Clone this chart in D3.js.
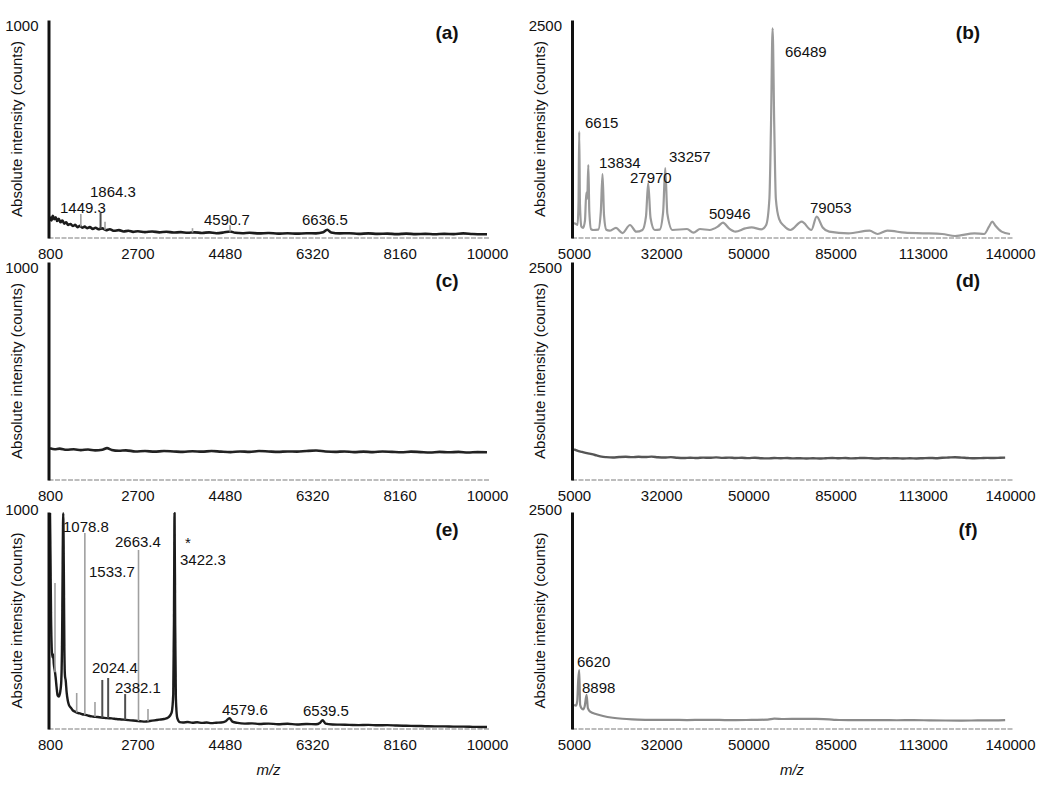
<!DOCTYPE html>
<html lang="en">
<head>
<meta charset="utf-8">
<title>Mass spectra (a)-(f)</title>
<script src="https://d3js.org/d3.v7.min.js"></script>
<style>
  body { margin: 0; background: #fff; }
  svg { font-family: "Liberation Sans", Arial, sans-serif; }
  .tick text { font-size: 15px; fill: #111; }
  .ann { font-size: 15px; fill: #111; }
  .tag { font-size: 19px; font-weight: bold; fill: #111; }
  .ylab { font-size: 15px; fill: #111; }
</style>
</head>
<body>
<div id="main"></div>
<script>

// x ticks sit at evenly spaced positions, labels as printed on the figure
var lowTicks = [800, 2640, 4480, 6320, 8160, 10000];
var lowTickLabels = ["800", "2700", "4480", "6320", "8160", "10000"];
var highTicks = [5000, 32000, 59000, 86000, 113000, 140000];
var highTickLabels = ["5000", "32000", "50000", "85000", "113000", "140000"];

// spectra: [m/z, counts]
var spectrumA = [[800,98],[830,80],[860,102],[890,86],[920,95],[950,78],[985,88],[1020,72],[1060,80],[1100,66],
  [1140,72],[1180,60],[1230,64],[1280,55],[1330,60],[1380,50],[1430,56],[1480,47],[1530,52],[1580,45],[1640,50],
  [1700,42],[1760,47],[1820,40],[1900,44],[1980,36],[2060,40],[2150,33],[2250,36],[2350,30],[2450,33],[2550,28],
  [2650,31],[2800,27],[2950,30],[3100,26],[3250,29],[3400,25],[3550,27],[3700,24],[3850,26],[4000,23],[4150,26],
  [4300,22],[4450,25],[4590,30],[4700,24],[4850,22],[5000,24],[5200,21],[5400,23],[5600,20],[5800,22],[6000,20],
  [6200,22],[6400,21],[6550,26],[6636,38],[6720,25],[6900,21],[7100,22],[7300,19],[7500,21],[7700,19],[7900,20],
  [8100,18],[8300,20],[8500,18],[8700,19],[8900,17],[9100,19],[9300,18],[9500,21],[9700,18],[9900,17],[10000,17]];

var spectrumB = [[5000,172],[5600,160],[6100,150],[6400,400],[6615,1219],[6850,380],[7300,130],[7800,115],[8400,200],
  [8800,520],[9100,450],[9430,837],[9750,300],[10300,100],[11000,92],[12500,95],[13300,300],[13834,734],[14300,260],
  [15000,95],[16000,84],[18000,115],[20000,57],[22340,149],[24300,72],[26200,92],[27300,250],[27970,631],[28700,230],
  [30000,92],[31500,95],[32600,300],[33257,803],[33900,280],[35500,92],[40000,103],[42000,61],[44000,103],[47000,92],
  [49500,130],[51130,176],[53000,110],[55000,73],[58000,110],[60000,122],[63000,100],[64500,150],[65500,450],
  [66000,1300],[66489,2405],[67000,1300],[67500,450],[68500,220],[70000,140],[72000,92],[75500,187],[78500,92],
  [80140,245],[82000,120],[84000,73],[90000,54],[96500,84],[99000,46],[102000,84],[107500,61],[113000,54],
  [119000,46],[123000,23],[129000,54],[132000,46],[133500,130],[134500,187],[135500,140],[137400,73],[140000,46]];

var spectrumC = [[800,146],[900,141],[1000,144],[1150,139],[1300,141],[1450,137],[1600,140],[1750,136],[1900,139],
  [2000,146],[2100,138],[2250,134],[2400,136],[2600,131],[2800,133],[3000,130],[3200,133],[3400,131],[3600,129],
  [3800,132],[4000,130],[4200,133],[4400,130],[4600,128],[4800,131],[5000,129],[5200,133],[5400,131],[5600,129],
  [5800,131],[6000,130],[6200,133],[6400,135],[6600,131],[6800,129],[7000,131],[7200,128],[7400,130],[7600,128],
  [7800,131],[8000,129],[8200,127],[8400,130],[8600,128],[8800,126],[9000,129],[9200,127],[9400,129],[9600,126],
  [9800,128],[10000,127]];

var spectrumD = [[5000,352],[6000,336],[7500,322],[9000,308],[10500,296],[12000,282],[13500,268],[15000,262],
  [17000,258],[19000,263],[21000,266],[23000,262],[25000,266],[27000,263],[29000,268],[31000,261],[33000,258],
  [35000,262],[37000,255],[39000,252],[41000,256],[43000,252],[45000,257],[47000,255],[49000,259],[51000,254],
  [53000,257],[55000,252],[57000,255],[59000,251],[61000,256],[63000,250],[65000,248],[67000,252],[69000,249],
  [71000,252],[73000,248],[75000,250],[77000,247],[79000,249],[81000,246],[83000,250],[85000,253],[87000,249],
  [89000,252],[91000,248],[93000,251],[95000,253],[97000,249],[99000,247],[101000,251],[103000,248],[105000,250],
  [107000,246],[109000,249],[111000,247],[113000,250],[115000,253],[117000,250],[119000,255],[121000,258],
  [123000,261],[125000,257],[127000,252],[129000,249],[131000,251],[133000,254],[135000,252],[137000,255],[138500,257]];

var spectrumE = [[800,995],[810,800],[822,520],[835,380],[850,330],[865,345],[880,300],[900,270],[920,235],[940,190],
  [960,155],[985,150],[1010,165],[1035,210],[1055,420],[1068,800],[1078.8,995],[1090,760],[1102,380],[1115,245],
  [1130,225],[1150,170],[1175,130],[1200,110],[1240,98],[1280,86],[1330,80],[1380,74],[1430,72],[1480,68],[1530,66],
  [1600,62],[1680,58],[1760,56],[1840,54],[1920,52],[2000,50],[2100,49],[2200,46],[2300,44],[2400,42],[2500,40],
  [2600,38],[2700,36],[2800,34],[2900,37],[3000,40],[3100,43],[3200,46],[3300,55],[3360,75],[3395,160],[3410,500],
  [3422.3,995],[3435,480],[3450,140],[3480,50],[3530,32],[3600,30],[3700,32],[3800,29],[3900,31],[4000,28],
  [4100,30],[4200,27],[4300,29],[4400,30],[4500,36],[4579.6,50],[4640,34],[4750,28],[4900,25],[5050,26],[5200,23],
  [5400,25],[5600,22],[5800,24],[6000,21],[6200,23],[6400,22],[6480,28],[6539.5,40],[6600,25],[6750,21],[6900,20],
  [7100,19],[7300,18],[7500,19],[7700,17],[7900,18],[8100,16],[8300,15],[8500,14],[8700,13],[8900,12],[9100,12],
  [9300,11],[9500,11],[9700,10],[9900,9],[10000,9]];

var spectrumF = [[5000,276],[5600,270],[6000,320],[6300,560],[6620,680],[6900,280],[7300,240],[7800,227],[8300,260],
  [8898,392],[9300,240],[10000,200],[12000,170],[14000,150],[17000,130],[20000,118],[23000,111],[27000,106],
  [30000,104],[35000,105],[40000,103],[45000,106],[50000,104],[55000,102],[60000,105],[65000,108],[67000,119],
  [70000,115],[75000,117],[80000,116],[84000,112],[86000,104],[90000,103],[95000,102],[100000,103],[105000,101],
  [110000,102],[115000,100],[120000,98],[125000,97],[130000,99],[135000,100],[138500,103]];

// separately drawn peak lines: [m/z, top counts]
var lightPeaksA = [[1449.3,110],[1958,75],[3800,45],[4590.7,58]];
var darkPeaksA = [[1864.3,115]];
var darkPeaksB = [[9430,837],[13834,734],[27970,631],[33257,803]];
var lightPeaksE = [[905,673],[1362,166],[1533.7,903],[1747,124],[2663.4,825],[2863,92]];
var darkPeaksE = [[1901,226],[2024.4,235],[2382.1,161]];
var darkPeaksF = [[8898,392]];

// peak annotations: [text, m/z, counts] of the label's left baseline
var labelsA = [["1449.3",1010,115],["1864.3",1642,188],["4590.7",4042,60],["6636.5",6105,60]];
var labelsB = [["6615",8406,1262],["13834",12740,803],["27970",22338,631],["33257",34412,872],
  ["50946",46796,218],["66489",70326,2076],["79053",78066,287]];
var labelsC = [];
var labelsD = [];
var labelsE = [["1078.8",1074,908],["1533.7",1621,700],["2663.4",2168,839],["*",3642,834],["3422.3",3537,756],
  ["2024.4",1684,258],["2382.1",2168,166],["4579.6",4421,65],["6539.5",6126,60]];
var labelsF = [["6620",5929,714],["8898",7477,415]];

var W = 1050, H = 789;
var cols = [
  {x0: 50, x1: 487, axisX: 48.5, tagX: 447, lo: 800, hi: 10000, ticks: lowTicks, tickLabels: lowTickLabels},
  {x0: 574, x1: 1010, axisX: 572, tagX: 968, lo: 5000, hi: 140000, ticks: highTicks, tickLabels: highTickLabels}
];
var rows = [
  {top: 20, base: 238, yTickDy: 6, tagY: 39},
  {top: 262, base: 480, yTickDy: 6, tagY: 287},
  {top: 512, base: 729, yTickDy: -2, tagY: 536}
];

var panels = [
  {tag: "(a)", col: 0, row: 0, ymax: 1000, data: spectrumA, color: "#1c1c1c", sw: 2.6,
    light: lightPeaksA, dark: darkPeaksA, labels: labelsA},
  {tag: "(b)", col: 1, row: 0, ymax: 2500, data: spectrumB, color: "#9a9a9a", sw: 2.2,
    light: [], dark: darkPeaksB, labels: labelsB},
  {tag: "(c)", col: 0, row: 1, ymax: 1000, data: spectrumC, color: "#222", sw: 2.6,
    light: [], dark: [], labels: labelsC},
  {tag: "(d)", col: 1, row: 1, ymax: 2500, data: spectrumD, color: "#555", sw: 2.4,
    light: [], dark: [], labels: labelsD},
  {tag: "(e)", col: 0, row: 2, ymax: 1000, data: spectrumE, color: "#1c1c1c", sw: 2.4,
    light: lightPeaksE, dark: darkPeaksE, labels: labelsE},
  {tag: "(f)", col: 1, row: 2, ymax: 2500, data: spectrumF, color: "#8a8a8a", sw: 2.2,
    light: [], dark: darkPeaksF, labels: labelsF}
];

var svg = d3.select("#main").append("svg")
  .attr("width", W).attr("height", H);

// soft blur, in user space so thin vertical lines survive it
svg.append("defs").append("filter").attr("id", "soft")
  .attr("filterUnits", "userSpaceOnUse")
  .attr("x", 0).attr("y", 0).attr("width", W).attr("height", H)
  .append("feGaussianBlur").attr("stdDeviation", 0.45);

var bisect = d3.bisector(function(d) { return d[0]; }).left;
function valueAt(data, mz) {
  var i = bisect(data, mz);
  if (i <= 0) return data[0][1];
  if (i >= data.length) return data[data.length - 1][1];
  var a = data[i - 1], b = data[i];
  return a[1] + (b[1] - a[1]) * (mz - a[0]) / (b[0] - a[0]);
}

panels.forEach(function(p) {
  var c = cols[p.col], r = rows[p.row];
  var x = d3.scaleLinear().domain([c.lo, c.hi]).range([c.x0, c.x1]);
  var y = d3.scaleLinear().domain([0, p.ymax]).range([r.base, r.top]);
  var g = svg.append("g");

  // dotted grey zero line
  g.append("line")
    .attr("x1", c.axisX).attr("x2", c.x1 + 3)
    .attr("y1", y(0)).attr("y2", y(0))
    .attr("stroke", "#bdbdbd").attr("stroke-width", 2.2)
    .attr("stroke-dasharray", "5 1.5");

  // spectrum trace
  var line = d3.line()
    .curve(d3.curveMonotoneX)
    .x(function(d) { return x(d[0]); })
    .y(function(d) { return y(d[1]); });
  g.append("path").datum(p.data)
    .attr("d", line)
    .attr("fill", "none")
    .attr("stroke", p.color)
    .attr("stroke-width", p.sw)
    .attr("stroke-linejoin", "round")
    .attr("filter", "url(#soft)");

  // single peak lines rising from the trace
  function peaks(list, color, w) {
    g.selectAll(null).data(list).enter().append("line")
      .attr("x1", function(d) { return x(d[0]); })
      .attr("x2", function(d) { return x(d[0]); })
      .attr("y1", function(d) { return y(valueAt(p.data, d[0])); })
      .attr("y2", function(d) { return y(d[1]); })
      .attr("stroke", color)
      .attr("stroke-width", w)
      .attr("filter", "url(#soft)");
  }
  peaks(p.light, "#a0a0a0", 1.6);
  peaks(p.dark, "#505050", 2);

  // x axis
  var xAxis = d3.axisBottom(x)
    .tickValues(c.ticks)
    .tickFormat(function(d, i) { return c.tickLabels[i]; })
    .tickSize(0).tickPadding(10);
  var xg = g.append("g").attr("transform", "translate(0," + r.base + ")").call(xAxis);
  xg.select(".domain").remove();
  xg.selectAll("text").attr("font-family", null).attr("font-size", null);

  // y axis
  var yAxis = d3.axisLeft(y).tickValues([p.ymax]).tickFormat(d3.format("d"))
    .tickSize(0).tickSizeOuter(0).tickPadding(10);
  var yg = g.append("g").attr("transform", "translate(" + c.axisX + ",0)").call(yAxis);
  yg.select(".domain").attr("stroke", "#111").attr("stroke-width", 3);
  yg.selectAll("text").attr("font-family", null).attr("font-size", null).attr("y", r.yTickDy);

  g.append("text").attr("class", "ylab")
    .attr("transform", "translate(" + (c.axisX - 32) + "," + ((r.top + r.base) / 2) + ") rotate(-90)")
    .attr("text-anchor", "middle")
    .attr("dy", "0.35em")
    .text("Absolute intensity (counts)");

  // panel tag
  g.append("text").attr("class", "tag")
    .attr("x", c.tagX).attr("y", r.tagY)
    .attr("text-anchor", "middle")
    .text(p.tag);

  // peak annotations
  g.selectAll(null).data(p.labels).enter().append("text")
    .attr("class", "ann")
    .attr("x", function(d) { return x(d[1]); })
    .attr("y", function(d) { return y(d[2]); })
    .text(function(d) { return d[0]; });

  if (p.row === 2) {
    g.append("text")
      .attr("x", (c.x0 + c.x1) / 2).attr("y", 775)
      .attr("text-anchor", "middle")
      .attr("font-size", 15).attr("font-style", "italic")
      .attr("fill", "#111")
      .text("m/z");
  }
});

</script>
</body>
</html>
